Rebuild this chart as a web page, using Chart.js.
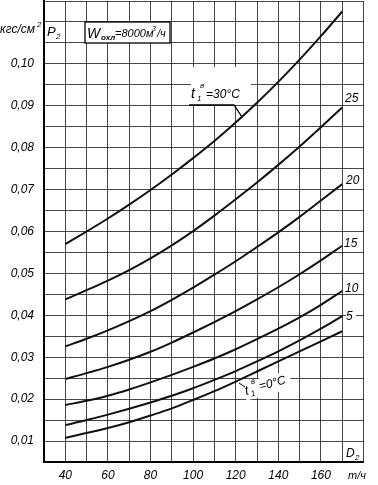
<!DOCTYPE html>
<html>
<head>
<meta charset="utf-8">
<script src="https://cdn.jsdelivr.net/npm/chart.js@4.4.1/dist/chart.umd.min.js"></script>
<style>
html, body { margin: 0; padding: 0; background: #fff; }
</style>
</head>
<body>
<canvas id="p2Chart" width="378" height="485"></canvas>
<script>
// расход D2, т/ч
var flow = [40, 50, 60, 70, 80, 90, 100, 110, 120, 130, 140, 150, 160, 170];
// P2, кгс/см2 для разных t1в
var p30 = [0.0570, 0.0600, 0.0631, 0.0664, 0.0699, 0.0736, 0.0775, 0.0816, 0.0860, 0.0907, 0.0957, 0.1010, 0.1066, 0.1125];
var p25 = [0.0438, 0.0460, 0.0483, 0.0508, 0.0536, 0.0567, 0.0601, 0.0638, 0.0677, 0.0717, 0.0759, 0.0803, 0.0849, 0.0896];
var p20 = [0.0326, 0.0344, 0.0364, 0.0386, 0.0410, 0.0437, 0.0466, 0.0497, 0.0529, 0.0563, 0.0598, 0.0635, 0.0674, 0.0713];
var p15 = [0.0248, 0.0262, 0.0277, 0.0294, 0.0313, 0.0335, 0.0359, 0.0384, 0.0410, 0.0438, 0.0467, 0.0498, 0.0531, 0.0566];
var p10 = [0.0186, 0.0196, 0.0208, 0.0223, 0.0240, 0.0258, 0.0277, 0.0297, 0.0319, 0.0343, 0.0368, 0.0395, 0.0425, 0.0458];
var p5  = [0.0138, 0.0150, 0.0163, 0.0177, 0.0192, 0.0208, 0.0226, 0.0246, 0.0267, 0.0290, 0.0314, 0.0340, 0.0368, 0.0398];
var p0  = [0.0108, 0.0119, 0.0131, 0.0145, 0.0161, 0.0178, 0.0198, 0.0219, 0.0242, 0.0266, 0.0290, 0.0314, 0.0338, 0.0362];

var curveLabels = ['25', '20', '15', '10', '5'];
var xTickLabels = [40, 60, 80, 100, 120, 140, 160];
var yTickLabels = [0.01, 0.02, 0.03, 0.04, 0.05, 0.06, 0.07, 0.08, 0.09, 0.10];

var FONT = '"Liberation Sans", Arial, sans-serif';

function pts(arr) {
	return flow.map(function (x, i) { return { x: x, y: arr[i] }; });
}

function curve(arr) {
	return {
		data: pts(arr),
		borderColor: '#111',
		borderWidth: 2,
		pointRadius: 0,
		fill: false,
		cubicInterpolationMode: 'monotone'
	};
}

function patch(ctx, x, y, w, h) {
	ctx.fillStyle = '#fff';
	ctx.fillRect(x, y, w, h);
}

// белые подложки под надписями (поверх сетки, под кривыми)
var patchPlugin = {
	id: 'patches',
	beforeDatasetsDraw: function (chart) {
		var ctx = chart.ctx;
		ctx.save();
		patch(ctx, 191, 67, 60, 38);
		patch(ctx, 345, 91, 17, 13);
		patch(ctx, 346, 173, 17, 13);
		patch(ctx, 344, 236, 17, 13);
		patch(ctx, 345, 281, 17, 13);
		patch(ctx, 346, 309, 10, 13);
		ctx.translate(266, 388);
		ctx.rotate(-0.26);
		patch(ctx, -22, -11, 48, 18);
		ctx.restore();
	}
};

var textPlugin = {
	id: 'texts',
	afterDraw: function (chart) {
		var ctx = chart.ctx;
		ctx.save();
		ctx.fillStyle = '#000';
		ctx.strokeStyle = '#000';
		ctx.textBaseline = 'alphabetic';

		// единицы оси Y
		ctx.font = 'italic 12px ' + FONT;
		ctx.fillText('кгс/см', 0, 33);
		ctx.font = 'italic 8px ' + FONT;
		ctx.fillText('2', 37, 27);
		ctx.font = 'italic 13px ' + FONT;
		ctx.fillText('P', 47, 36);
		ctx.font = 'italic 8px ' + FONT;
		ctx.fillText('2', 56, 39);

		// рамка W охл
		ctx.fillStyle = '#fff';
		ctx.fillRect(85, 22, 85, 21);
		ctx.lineWidth = 1.3;
		ctx.strokeRect(85, 22, 85, 21);
		ctx.fillStyle = '#000';
		ctx.font = 'italic 14px ' + FONT;
		ctx.fillText('W', 87, 38);
		ctx.font = 'bold italic 8px ' + FONT;
		ctx.fillText('охл', 101, 40);
		ctx.font = 'italic 11px ' + FONT;
		ctx.fillText('=8000м', 115, 37);
		ctx.font = 'italic 7px ' + FONT;
		ctx.fillText('3', 152, 31);
		ctx.font = 'italic 11px ' + FONT;
		ctx.fillText('/ч', 157, 37);

		// t1в = 30 °C
		ctx.font = 'italic 14px ' + FONT;
		ctx.fillText('t', 191, 98);
		ctx.font = 'italic 8px ' + FONT;
		ctx.fillText('1', 197, 101);
		ctx.fillText('в', 200, 88);
		ctx.font = 'italic 12px ' + FONT;
		ctx.fillText('=30°C', 206, 98);
		ctx.lineWidth = 1.3;
		ctx.beginPath();
		ctx.moveTo(189, 105);
		ctx.lineTo(234, 105);
		ctx.lineTo(242, 117);
		ctx.stroke();

		// подписи кривых
		ctx.font = 'italic 12px ' + FONT;
		var lx = [345, 346, 344, 345, 346];
		var ly = [102, 184, 247, 292, 320];
		curveLabels.forEach(function (t, i) { ctx.fillText(t, lx[i], ly[i]); });

		// t1в = 0 °C
		ctx.save();
		ctx.translate(246, 395);
		ctx.rotate(-0.26);
		ctx.font = 'italic 13px ' + FONT;
		ctx.fillText('t', 0, 0);
		ctx.font = 'italic 8px ' + FONT;
		ctx.fillText('1', 5, 3);
		ctx.fillText('в', 8, -9);
		ctx.font = 'italic 12px ' + FONT;
		ctx.fillText('=0°C', 15, -1);
		ctx.restore();
		ctx.lineWidth = 1;
		ctx.beginPath();
		ctx.moveTo(239, 383);
		ctx.lineTo(245, 387);
		ctx.stroke();

		// D2 и т/ч
		ctx.font = 'italic 12px ' + FONT;
		ctx.fillText('D', 346, 457);
		ctx.font = 'italic 8px ' + FONT;
		ctx.fillText('2', 355, 460);
		ctx.font = 'italic 11px ' + FONT;
		ctx.fillText('т/ч', 348, 479);
		ctx.restore();
	}
};

var tickFont = { family: FONT, style: 'italic', size: 12 };

var ctx = document.getElementById('p2Chart');

var p2Chart = new Chart(ctx, {
	type: 'line',
	data: {
		datasets: [curve(p30), curve(p25), curve(p20), curve(p15), curve(p10), curve(p5), curve(p0)]
	},
	options: {
		responsive: false,
		animation: false,
		devicePixelRatio: 1,
		layout: { padding: { top: 1, right: 14.5, left: 0, bottom: 0 } },
		plugins: {
			legend: { display: false },
			tooltip: { enabled: false }
		},
		scales: {
			x: {
				type: 'linear',
				min: 30,
				max: 180,
				ticks: {
					stepSize: 10,
					autoSkip: false,
					maxRotation: 0,
					padding: 6,
					color: '#000',
					font: tickFont,
					callback: function (v) {
						return xTickLabels.indexOf(v) >= 0 ? String(v) : '';
					}
				},
				grid: { color: 'rgba(0,0,0,0.72)', lineWidth: 1, drawTicks: false },
				border: { color: '#000', width: 2 },
				afterFit: function (s) {
					s.height = 23;
					s.paddingLeft = 0; s.paddingRight = 0;
				}
			},
			y: {
				type: 'linear',
				min: 0.005,
				max: 0.115,
				ticks: {
					stepSize: 0.005,
					autoSkip: false,
					padding: 10,
					color: '#000',
					font: tickFont,
					callback: function (v) {
						var k = Math.round(v * 1000);
						var hit = yTickLabels.some(function (t) { return Math.round(t * 1000) === k; });
						return hit ? (k / 1000).toFixed(2).replace('.', ',') : '';
					}
				},
				grid: { color: 'rgba(0,0,0,0.72)', lineWidth: 1, drawTicks: false },
				border: { color: '#000', width: 2 },
				afterFit: function (s) {
					s.width = 44;
					s.paddingTop = 0; s.paddingBottom = 0;
				}
			}
		}
	},
	plugins: [patchPlugin, textPlugin]
});
</script>
</body>
</html>
